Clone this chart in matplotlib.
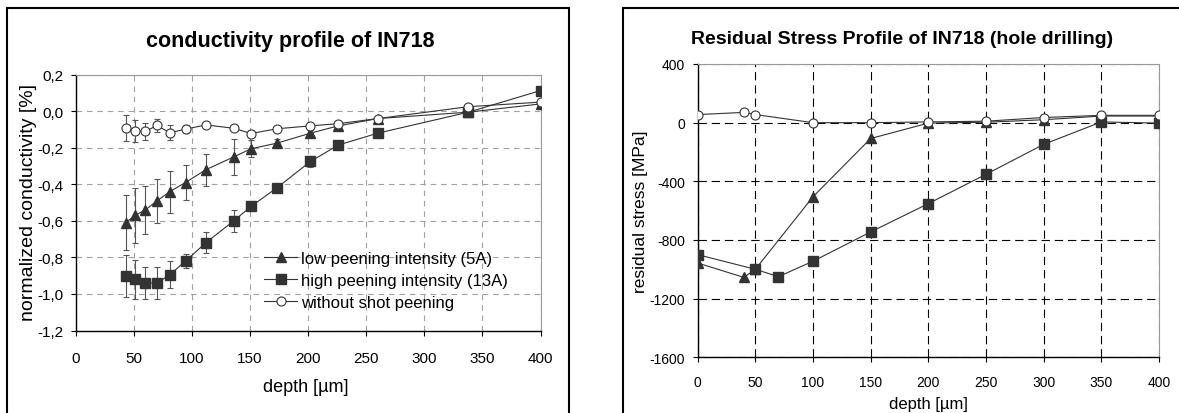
import numpy as np
import matplotlib
matplotlib.use("Agg")
from matplotlib import pyplot as plt
from matplotlib.patches import Rectangle

# conductivity profile (left)
depth = [43, 51, 60, 70, 81, 94.5, 112, 136, 151, 173, 202, 226, 260, 338, 400]
low = [-0.61, -0.57, -0.54, -0.49, -0.44, -0.39, -0.32, -0.25, -0.205, -0.175, -0.12, -0.08, -0.04, -0.005, 0.04]
low_err = [0.15, 0.15, 0.13, 0.12, 0.115, 0.095, 0.088, 0.1, 0.045, 0.025, 0.015, 0.01, 0.01, 0.005, 0.005]
high = [-0.90, -0.92, -0.94, -0.94, -0.895, -0.82, -0.72, -0.60, -0.52, -0.42, -0.275, -0.185, -0.12, -0.005, 0.113]
high_err = [0.115, 0.105, 0.09, 0.09, 0.075, 0.04, 0.057, 0.06, 0.02, 0.01, 0.03, 0.01, 0.01, 0.01, 0.01]
unpeened = [-0.093, -0.11, -0.11, -0.078, -0.118, -0.098, -0.075, -0.093, -0.122, -0.096, -0.08, -0.068, -0.04, 0.025, 0.05]
unpeened_err = [0.07, 0.06, 0.047, 0.037, 0.04, 0.02, 0.01, 0.01, 0.02, 0.01, 0.01, 0.01, 0.01, 0.01, 0.01]
cond_yticks = [-1.2, -1.0, -0.8, -0.6, -0.4, -0.2, 0.0, 0.2]
cond_ylabels = ["-1,2", "-1,0", "-0,8", "-0,6", "-0,4", "-0,2", "0,0", "0,2"]
labels = ["low peening intensity (5A)", "high peening intensity (13A)", "without shot peening"]

# residual stress profile (right)
rs_depth_low = [0, 40, 50, 100, 150, 200, 250, 300, 350, 400]
rs_low = [-957, -1055, -1000, -505, -108, -3, 3, 20, 45, 45]
rs_depth_high = [0, 50, 70, 100, 150, 200, 250, 300, 350, 400]
rs_high = [-900, -1000, -1050, -945, -745, -552, -352, -148, 5, -3]
rs_depth_none = [0, 40, 50, 100, 150, 200, 250, 300, 350, 400]
rs_none = [55, 70, 55, 0, 0, 5, 10, 35, 50, 50]
rs_yticks = [-1600, -1200, -800, -400, 0, 400]
xticks = [0, 50, 100, 150, 200, 250, 300, 350, 400]

W, H = 1179, 414
plt.rcParams['font.family'] = ['Liberation Sans', 'DejaVu Sans']
plt.rcParams['lines.scale_dashes'] = False

fig = plt.figure(figsize=(W / 100, H / 100), dpi=100)
fig.patch.set_facecolor("white")


def ax_rect(x0, y0, x1, y1):
    return [x0 / W, 1 - y1 / H, (x1 - x0) / W, (y1 - y0) / H]


def fig_xy(x, y):
    return x / W, 1 - y / H


def style_axes(ax, grid_color, dashes):
    for side in ["top", "right"]:
        ax.spines[side].set_color("#999999")
        ax.spines[side].set_linewidth(0.8)
    for side in ["left", "bottom"]:
        ax.spines[side].set_color("black")
        ax.spines[side].set_linewidth(1.0)
    ax.set_axisbelow(True)
    ax.tick_params(direction="out", length=3.6, width=0.8, colors="black")
    ax.grid(True, color=grid_color, linestyle=(0, dashes), linewidth=0.8)


dark = "#333333"

# ---- left chart ----
ax1 = fig.add_axes(ax_rect(75.7, 75.7, 540.5, 331.5))
style_axes(ax1, "#a0a0a0", (4, 3.5))
ax1.errorbar(depth, low, yerr=low_err, fmt="none", ecolor="#555555", elinewidth=0.8, capsize=2.5, capthick=0.8, zorder=2)
ax1.errorbar(depth, high, yerr=high_err, fmt="none", ecolor="#555555", elinewidth=0.8, capsize=2.5, capthick=0.8, zorder=2)
ax1.errorbar(depth, unpeened, yerr=unpeened_err, fmt="none", ecolor="#555555", elinewidth=0.8, capsize=2.5, capthick=0.8, zorder=2)
ax1.plot(depth, low, color=dark, lw=0.8, marker="^", ms=7.5, mfc=dark, mec=dark, label=labels[0], zorder=3)
ax1.plot(depth, high, color=dark, lw=0.8, marker="s", ms=7, mfc=dark, mec=dark, label=labels[1], zorder=3)
ax1.plot(depth, unpeened, color=dark, lw=0.8, marker="o", ms=6.5, mfc="white", mec=dark, mew=0.8, label=labels[2], zorder=3)
ax1.set_xlim(0, 400)
ax1.set_ylim(-1.2, 0.2)
ax1.set_xticks(xticks)
ax1.set_yticks(cond_yticks)
ax1.set_yticklabels(cond_ylabels)
ax1.tick_params(axis="both", labelsize=11)
ax1.tick_params(axis="x", pad=11)
ax1.tick_params(axis="y", pad=5)
ax1.legend(loc="upper left", bbox_to_anchor=(0.405, 0.312), frameon=False, fontsize=12,
           handlelength=2.0, handletextpad=0.2, labelspacing=0.42, borderpad=0, borderaxespad=0)
fig.text(*fig_xy(290, 41.5), "conductivity profile of IN718", ha="center", va="center",
         fontsize=15.5, fontweight="bold")
fig.text(*fig_xy(28.5, 203), "normalized conductivity [%]", rotation=90, ha="center", va="center", fontsize=14)
fig.text(*fig_xy(306, 388), "depth [µm]", ha="center", va="center", fontsize=13)

# ---- right chart ----
ax2 = fig.add_axes(ax_rect(697.7, 65, 1159, 358.3))
style_axes(ax2, "black", (6, 3.5))
ax2.plot(rs_depth_low, rs_low, color=dark, lw=0.8, marker="^", ms=7.5, mfc=dark, mec=dark, zorder=3)
ax2.plot(rs_depth_high, rs_high, color=dark, lw=0.8, marker="s", ms=7, mfc=dark, mec=dark, zorder=3)
ax2.plot(rs_depth_none, rs_none, color=dark, lw=0.8, marker="o", ms=6.5, mfc="white", mec=dark, mew=0.8, zorder=3)
ax2.set_xlim(0, 400)
ax2.set_ylim(-1600, 400)
ax2.set_xticks(xticks)
ax2.set_yticks(rs_yticks)
ax2.set_yticklabels([str(v) for v in rs_yticks])
ax2.tick_params(axis="both", labelsize=10)
ax2.tick_params(axis="x", pad=9)
ax2.tick_params(axis="y", pad=5.5)
fig.text(*fig_xy(902, 40), "Residual Stress Profile of IN718 (hole drilling)", ha="center", va="center",
         fontsize=14, fontweight="bold")
fig.text(*fig_xy(640, 211.5), "residual stress [MPa]", rotation=90, ha="center", va="center", fontsize=12.5)
fig.text(*fig_xy(928, 405), "depth [µm]", ha="center", va="center", fontsize=12)

# panel frames
fig.add_artist(Rectangle(fig_xy(7.3, 430), (569 - 7.3) / W, (430 - 9.3) / H, transform=fig.transFigure,
                         fill=False, edgecolor="black", linewidth=1.5, clip_on=False))
fig.add_artist(Rectangle(fig_xy(622.7, 430), (1200 - 622.7) / W, (430 - 9.3) / H, transform=fig.transFigure,
                         fill=False, edgecolor="black", linewidth=1.5, clip_on=False))

fig.savefig("out.png", dpi=100)
